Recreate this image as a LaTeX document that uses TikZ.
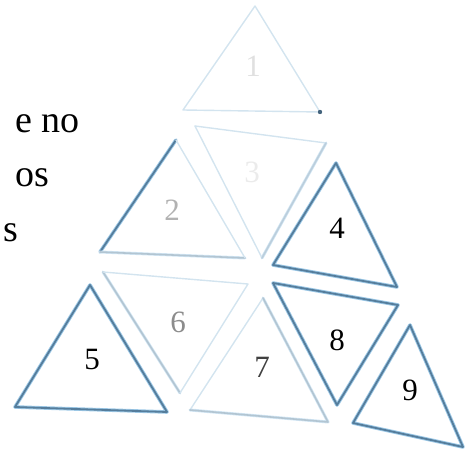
\documentclass[tikz,border=0pt]{standalone}
\usepackage{fontspec}
\setmainfont{Liberation Serif}
\usetikzlibrary{calc}
\definecolor{cedge}{HTML}{557D9C}
\definecolor{chalo}{HTML}{9CC8E6}
\definecolor{cfaint}{HTML}{D3E4EF}
\tikzset{
  every picture/.style={line join=round, line cap=round},
  edge/.style={draw=cedge, line width=1.8pt, preaction={draw=chalo, line width=3.6pt}},
  soft/.style={draw=cedge!45, line width=1.6pt, preaction={draw=chalo!45, line width=3pt}},
  faint/.style={draw=cfaint, line width=1.4pt},
  num/.style={font=\fontsize{31}{31}\selectfont, text=#1, inner sep=0pt},
  num/.default=black,
  word/.style={font=\fontsize{38}{38}\selectfont, anchor=base west, inner sep=0pt},
}
\begin{document}
\begin{tikzpicture}[x=1pt, y=-1pt]
  \useasboundingbox (0,0) rectangle (471,454);
  % left margin text, cut by the page edge
  \node[word] (w1) at (15,133) {e no};
  \node[word] (w2) at (15,187) {os};
  \node[word] (w3) at (3,242) {s};
  % corners of the nine triangles
  \coordinate (t1a) at (255,6);   \coordinate (t1b) at (183,110); \coordinate (t1c) at (320,112);
  \coordinate (t2a) at (176,140); \coordinate (t2b) at (100,252); \coordinate (t2c) at (245,258);
  \coordinate (t3a) at (195,126); \coordinate (t3b) at (326,143); \coordinate (t3c) at (262,258);
  \coordinate (t4a) at (336,163); \coordinate (t4b) at (273,265); \coordinate (t4c) at (397,287);
  \coordinate (t5a) at (90,285);  \coordinate (t5b) at (15,407);  \coordinate (t5c) at (167,412);
  \coordinate (t6a) at (103,272); \coordinate (t6b) at (248,284); \coordinate (t6c) at (180,393);
  \coordinate (t7a) at (263,298); \coordinate (t7b) at (190,410); \coordinate (t7c) at (328,422);
  \coordinate (t8a) at (273,283); \coordinate (t8b) at (398,305); \coordinate (t8c) at (337,405);
  \coordinate (t9a) at (410,325); \coordinate (t9b) at (353,423); \coordinate (t9c) at (463,447);
  % washed out top
  \draw[faint] (t1a) -- (t1b) -- (t1c) -- cycle;
  \draw[faint] (t3a) -- (t3b);
  \draw[faint] (t3a) -- (t3c);
  \draw[soft, draw opacity=0.7] (t3b) -- (t3c);
  \fill[cedge!80!black] (t1c) circle (2.2pt);
  \draw[edge] (t2b) -- (t2a);
  \draw[soft] (t2b) -- (t2c);
  \draw[faint] (t2a) -- (t2c);
  \draw[soft] (t6a) -- (t6c);
  \draw[faint] (t6a) -- (t6b) -- (t6c);
  \draw[faint] (t7a) -- (t7b);
  \draw[soft] (t7b) -- (t7c) -- (t7a);
  % clear ones
  \draw[edge] (t4a) -- (t4b) -- (t4c) -- cycle;
  \draw[edge] (t5a) -- (t5b) -- (t5c) -- cycle;
  \draw[edge] (t8a) -- (t8b) -- (t8c) -- cycle;
  \draw[edge] (t9a) -- (t9b) -- (t9c) -- cycle;
  % numbers
  \node[num=black!12] (n1) at (253,66) {1};
  \node[num=black!30] (n2) at (172,210) {2};
  \node[num=black!8] (n3) at (252,172) {3};
  \node[num] (n4) at (337,228) {4};
  \node[num] (n5) at (92,360) {5};
  \node[num=black!45] (n6) at (178,322) {6};
  \node[num=black!75] (n7) at (262,367) {7};
  \node[num] (n8) at (337,340) {8};
  \node[num] (n9) at (410,390) {9};
\end{tikzpicture}
\end{document}
